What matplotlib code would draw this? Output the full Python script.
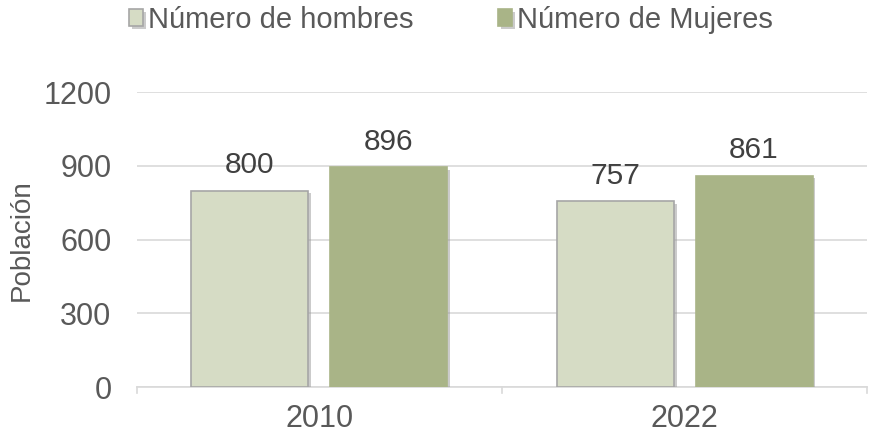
import numpy as np
import matplotlib.pyplot as plt
import matplotlib.patheffects as pe

plt.rcParams['font.family'] = ['Liberation Sans', 'DejaVu Sans']

years = ['2010', '2022']
hombres = [800, 757]
mujeres = [896, 861]

gris = '#595959'
c_h = '#d6dcc5'
c_m = '#a9b487'

fig = plt.figure(figsize=(8.7, 4.37), dpi=100)
ax = fig.add_axes([0.157, 0.114, 0.84, 0.675])

x = np.arange(len(years))
w = 0.32
sombra = [pe.SimplePatchShadow(offset=(2, -2), shadow_rgbFace='#999999', alpha=0.5), pe.Normal()]

b1 = ax.bar(x - 0.19, hombres, w, color=c_h, edgecolor='#a6a6a6', linewidth=1.2,
            label='Número de hombres', zorder=3)
b2 = ax.bar(x + 0.19, mujeres, w, color=c_m, edgecolor=c_m, linewidth=1.2,
            label='Número de Mujeres', zorder=3)
for b in list(b1) + list(b2):
    b.set_path_effects(sombra)

for bars in (b1, b2):
    for r in bars:
        ax.text(r.get_x() + r.get_width() / 2, r.get_height() + 45, str(int(r.get_height())),
                ha='center', va='bottom', fontsize=21.5, color='#404040')

ax.set_xlim(-0.5, 1.5)
ax.set_ylim(0, 1200)
ax.set_yticks([0, 300, 600, 900, 1200])
ax.set_xticks(x)
ax.set_xticklabels(years)
ax.tick_params(axis='y', length=0, labelsize=22, labelcolor=gris, pad=18)
ax.tick_params(axis='x', length=0, labelsize=22, labelcolor=gris, pad=12)
ax.grid(axis='y', color='#d9d9d9', linewidth=1.2, zorder=0)
ax.set_axisbelow(True)
for s in ['top', 'right', 'left']:
    ax.spines[s].set_visible(False)
ax.spines['bottom'].set_color('#d9d9d9')
ax.spines['bottom'].set_linewidth(1.2)
# separadores de categoría
for xt in [-0.5, 0.5, 1.5]:
    ax.plot([xt, xt], [0, -25], color='#d9d9d9', linewidth=1.2, clip_on=False)

ax.set_ylabel('Población', fontsize=20, color=gris, va='center')
ax.yaxis.set_label_coords(-0.157, 0.5)

fig.legend(handles=[b1, b2], loc='center', bbox_to_anchor=(0.518, 0.954), ncol=2,
           frameon=False, fontsize=21, labelcolor=gris, handlelength=0.5, handleheight=0.5,
           handletextpad=0.15, columnspacing=2.9)

fig.savefig('out.png', dpi=100)
